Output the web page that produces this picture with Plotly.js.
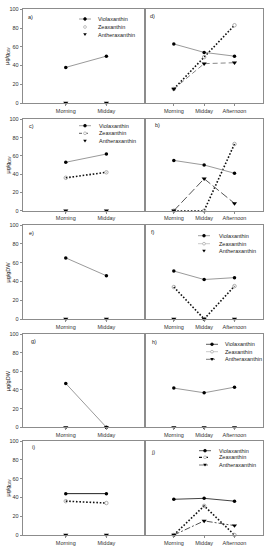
<!DOCTYPE html>
<html><head><meta charset="utf-8">
<script src="https://cdn.plot.ly/plotly-3.0.1.min.js"></script>
<style>html,body{margin:0;padding:0;background:#fff}#c{width:271px;height:550px}</style>
</head><body><div id="c"></div>
<script>
// ---- data ----
const cats2 = ['Morning', 'Midday'];
const cats3 = ['Morning', 'Midday', 'Afternoon'];
const pigments = ['Violaxanthin', 'Zeaxanthin', 'Antheraxanthin'];
const panelLabels = ['a)', 'd)', 'c)', 'b)', 'e)', 'f)', 'g)', 'h)', 'i)', 'j)'];

const a_viola = [38, 50], a_anth = [0, 0];
const d_viola = [63, 54, 50], d_zea = [15, 49, 83], d_anth = [15, 42, 43];
const c_viola = [53, 62], c_zea = [36, 42], c_anth = [0, 0];
const b_viola = [55, 50, 41], b_zea = [0, 0, 73], b_anth = [0, 35, 8];
const e_viola = [65, 46], e_anth = [0, 0];
const f_viola = [51, 42, 44], f_zea = [34, 0, 35], f_anth = [0, 0, 0];
const g_viola = [47, 0], g_anth = [0, 0];
const h_viola = [42, 37, 43], h_anth = [0, 0, 0];
const i_viola = [44, 44], i_zea = [36, 34], i_anth = [0, 0];
const j_viola = [38, 39, 36], j_zea = [0, 31, 0], j_anth = [0, 15, 10];
const yTicks = [0, 20, 40, 60, 80, 100];

// ---- geometry ----
const W = 271, H = 550;
const px = v => v / W, py = v => 1 - v / H;
const xLeft = [22.7, 145], xRight = [145, 262.7];
const rows = [[9.3, 103], [119.3, 210.7], [225, 319], [334, 427.3], [441, 535]];
const frame = '#8c8c8c';
const FONT = 'Liberation Sans, Arial, sans-serif';

const panels = [
  {cats: cats2, v: a_viola, a: a_anth},
  {cats: cats3, v: d_viola, z: d_zea, a: d_anth, adash: '5px,3px', acol: '#888'},
  {cats: cats2, v: c_viola, z: c_zea, a: c_anth},
  {cats: cats3, v: b_viola, z: b_zea, a: b_anth, adash: '8px,3px', acol: '#555'},
  {cats: cats2, v: e_viola, a: e_anth},
  {cats: cats3, v: f_viola, z: f_zea, a: f_anth},
  {cats: cats2, v: g_viola, a: g_anth},
  {cats: cats3, v: h_viola, a: h_anth},
  {cats: cats2, v: i_viola, z: i_zea, a: i_anth, vcol: '#222'},
  {cats: cats3, v: j_viola, z: j_zea, a: j_anth, vcol: '#444', adash: '6px,2px,2px,2px', acol: '#555'}
];

const traces = [];
const layout = {
  width: W, height: H, margin: {l: 0, r: 0, t: 0, b: 0},
  paper_bgcolor: '#fff', plot_bgcolor: '#fff', showlegend: false,
  font: {family: FONT, size: 5.5, color: '#222'},
  annotations: [], shapes: []
};

panels.forEach((p, k) => {
  const n = k + 1, sx = n === 1 ? '' : n, row = Math.floor(k / 2), left = k % 2 === 0;
  const xa = 'x' + sx, ya = 'y' + sx;
  const xd = left ? xLeft : xRight;
  layout['xaxis' + sx] = {
    domain: [px(xd[0]), px(xd[1])], anchor: ya, type: 'category',
    range: left ? [-1.06, 1.95] : [-0.95, 2.93],
    showline: true, linecolor: frame, linewidth: 1, mirror: true,
    showgrid: false, zeroline: false, ticks: 'outside', ticklen: 2, tickcolor: frame,
    tickfont: {size: 5.5, family: FONT, color: '#333'}, fixedrange: true
  };
  layout['yaxis' + sx] = {
    domain: [py(rows[row][1]), py(rows[row][0])], anchor: xa,
    range: [0, 100], tickvals: yTicks,
    showline: true, linecolor: frame, linewidth: 1, mirror: true,
    showgrid: false, zeroline: false,
    ticks: left ? 'outside' : '', ticklen: 2, tickcolor: frame,
    showticklabels: left, tickfont: {size: 5.5, family: FONT, color: '#333'}, fixedrange: true
  };
  if (p.z) traces.push({
    x: p.cats, y: p.z, xaxis: xa, yaxis: ya, type: 'scatter', mode: 'lines+markers', cliponaxis: false,
    line: {color: '#111', width: 1.6, dash: '1.6px,1.8px'},
    marker: {symbol: 'circle-open', size: 3.5, color: '#999', line: {width: 0.8, color: '#999'}}
  });
  traces.push({
    x: p.cats, y: p.a, xaxis: xa, yaxis: ya, type: 'scatter', cliponaxis: false,
    mode: p.adash ? 'lines+markers' : 'markers',
    line: {color: p.acol || '#777', width: 1, dash: p.adash || 'solid'},
    marker: {symbol: 'triangle-down', size: 4.5, color: '#000'}
  });
  traces.push({
    x: p.cats, y: p.v, xaxis: xa, yaxis: ya, type: 'scatter', mode: 'lines+markers', cliponaxis: false,
    line: {color: p.vcol || '#9a9a9a', width: 1},
    marker: {symbol: 'circle', size: 3.5, color: '#000'}
  });
});

// panel labels
const labelPos = [[30, 17], [152, 16], [31, 126], [157, 125], [31, 233], [153, 232], [33, 341], [154, 342], [33, 447], [153, 452]];
panelLabels.forEach((t, k) => layout.annotations.push({
  text: t, xref: 'paper', yref: 'paper', x: px(labelPos[k][0]), y: py(labelPos[k][1]),
  xanchor: 'center', yanchor: 'middle', showarrow: false, font: {size: 5.5, family: FONT, color: '#222'}
}));

// y-axis titles
const yTitles = ['µg/g<sub>DW</sub>', 'µg/g<sub>DW</sub>', 'µg/gDW', 'µg/gDW', 'µg/g<sub>DW</sub>'];
rows.forEach((r, i) => layout.annotations.push({
  text: yTitles[i], xref: 'paper', yref: 'paper', x: px(7.5), y: py((r[0] + r[1]) / 2),
  xanchor: 'center', yanchor: 'middle', textangle: -90, showarrow: false,
  font: {size: 5.5, family: FONT, color: '#222'}
}));

// legends (drawn from pigment names)
function legend(mx, tx, ys, st) {
  ys.forEach((yy, r) => {
    const s = st[r];
    if (s.line) layout.shapes.push({
      type: 'line', xref: 'paper', yref: 'paper', xsizemode: 'pixel', ysizemode: 'pixel',
      xanchor: px(mx), yanchor: py(yy), x0: -6, x1: 6, y0: 0, y1: 0,
      line: {color: s.lc, width: s.lw || 0.8, dash: s.line}
    });
    if (s.m === 'tri') layout.shapes.push({
      type: 'path', xref: 'paper', yref: 'paper', xsizemode: 'pixel', ysizemode: 'pixel',
      xanchor: px(mx), yanchor: py(yy), path: 'M-1.8,1.3L1.8,1.3L0,-1.6Z',
      fillcolor: '#000', line: {width: 0}
    });
    else layout.shapes.push({
      type: 'circle', xref: 'paper', yref: 'paper', xsizemode: 'pixel', ysizemode: 'pixel',
      xanchor: px(mx), yanchor: py(yy), x0: -1.4, x1: 1.4, y0: -1.4, y1: 1.4,
      fillcolor: s.m === 'open' ? '#fff' : '#000', line: {color: s.m === 'open' ? '#999' : '#000', width: 0.6}
    });
    layout.annotations.push({
      text: pigments[r], xref: 'paper', yref: 'paper', x: px(tx), y: py(yy),
      xanchor: 'left', yanchor: 'middle', showarrow: false, font: {size: 5.5, family: FONT, color: '#222'}
    });
  });
}
const solid = {line: 'solid', lc: '#888', m: 'fill'};
legend(85, 96, [19, 27, 34.5], [solid, {m: 'open'}, {m: 'tri'}]);
legend(85, 97, [125.7, 133.3, 141], [solid, {line: 'dot', lc: '#333', m: 'open'}, {m: 'tri'}]);
legend(204, 217, [235.7, 243.7, 251], [solid, {line: 'solid', lc: '#bbb', m: 'open'}, {m: 'tri'}]);
legend(212, 223, [344.3, 351.7, 359.3], [{line: 'solid', lc: '#333', m: 'fill'}, {line: 'solid', lc: '#bbb', m: 'open'}, {line: 'dashdot', lc: '#555', m: 'tri'}]);
legend(205, 217, [450.7, 457.3, 465], [{line: 'solid', lc: '#333', m: 'fill'}, {line: 'dot', lc: '#111', lw: 1.2, m: 'open'}, {line: 'dashdot', lc: '#555', m: 'tri'}]);

Plotly.newPlot('c', traces, layout, {staticPlot: true, displayModeBar: false});
</script></body></html>
